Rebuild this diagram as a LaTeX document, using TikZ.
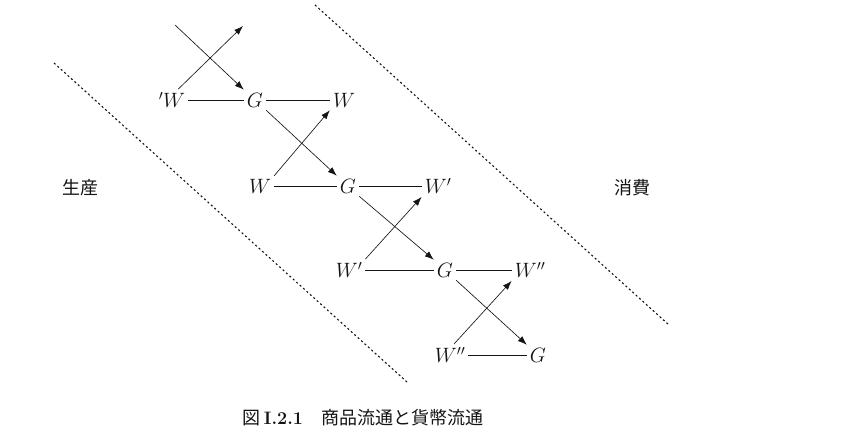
\documentclass[tikz,border=0pt]{standalone}
\usepackage{fontspec}
\newfontfamily\jp{Noto Sans CJK JP}
\usepackage{tikz}
\usetikzlibrary{arrows.meta, positioning}
\definecolor{mydark}{RGB}{20,20,20}
\tikzset{
  term/.style={inner sep=3pt, font=\fontsize{20}{24}\selectfont, text=mydark},
  sidelabel/.style={font=\jp\fontsize{18}{22}\selectfont, text=mydark},
  arrow/.style={-{Latex[length=9pt,width=6.5pt]}, line width=0.65pt, color=mydark},
  line/.style={line width=0.65pt, color=mydark},
  border/.style={line width=1.1pt, color=mydark, dash pattern=on 2pt off 2.6pt}
}
\begin{document}
\begin{tikzpicture}[x=1pt, y=-1pt]
  \useasboundingbox (0,0) rectangle (841,447);

  % Borders between the two spheres
  \coordinate (la) at (54,63);
  \coordinate (lb) at (407,382);
  \coordinate (ra) at (315,5);
  \coordinate (rb) at (669,325);
  \draw[border] (la) -- (lb);
  \draw[border] (ra) -- (rb);

  % Side labels
  \node[sidelabel] (prod) at (80,188) {生産};
  \node[sidelabel] (cons) at (632,188) {消費};

  % Rows of the chain
  \node[term] (w0) at (172,100) {$'W$};
  \node[term] (g1) at (255,100) {$G$};
  \node[term] (w1) at (344,100) {$W$};

  \node[term] (w2) at (260,186) {$W$};
  \node[term] (g2) at (348,186) {$G$};
  \node[term] (w3) at (438,186) {$W'$};

  \node[term] (w4) at (349,270) {$W'$};
  \node[term] (g3) at (445,270) {$G$};
  \node[term] (w5) at (530,270) {$W''$};

  \node[term] (w6) at (450,355) {$W''$};
  \node[term] (g4) at (538,355) {$G$};

  % Horizontal links
  \draw[line] (w0) -- (g1);
  \draw[line] (g1) -- (w1);
  \draw[line] (w2) -- (g2);
  \draw[line] (g2) -- (w3);
  \draw[line] (w4) -- (g3);
  \draw[line] (g3) -- (w5);
  \draw[line] (w6) -- (g4);

  % Crossing arrows
  \coordinate (t1) at (175,25);
  \coordinate (t2) at (243,26);
  \draw[arrow] (t1) -- (g1.north west);
  \draw[arrow] (w0.60) -- (t2);

  \draw[arrow] (g1.south east) -- (g2.north west);
  \draw[arrow] (w2.north east) -- (w1.south west);

  \draw[arrow] (g2.south east) -- (g3.north west);
  \draw[arrow] (w4.north east) -- (w3.south west);

  \draw[arrow] (g3.south east) -- (g4.north west);
  \draw[arrow] (w6.70) -- (w5.south west);

  % Caption
  \node[font=\fontsize{18}{22}\selectfont, text=mydark] (cap) at (363,418)
    {{\jp 図}\,\textbf{I.2.1}\hspace{1em}{\jp 商品流通と貨幣流通}};
\end{tikzpicture}
\end{document}
